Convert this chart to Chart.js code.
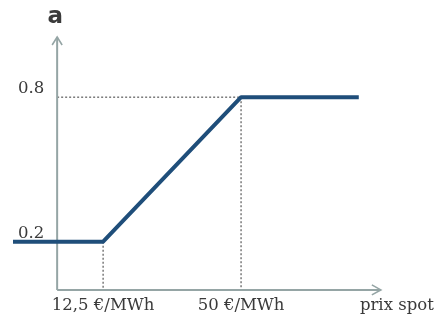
<!DOCTYPE html>
<html>
<head>
<meta charset="utf-8">
<script src="https://cdn.jsdelivr.net/npm/chart.js@4"></script>
<style>
  html, body { margin: 0; padding: 0; background: #fff; }
  #wrap { width: 434px; height: 320px; position: relative; }
</style>
</head>
<body>
<div id="wrap"><canvas id="chart"></canvas></div>
<script>
// piecewise curve: coefficient a vs spot price
const spotPrice = [-12, 12.5, 50, 82];
const coeffA = [0.2, 0.2, 0.8, 0.8];

// tick labels
const xTickValues = [12.5, 50];
const xTickLabels = ['12,5 €/MWh', '50 €/MWh'];
const yTickValues = [0.2, 0.8];
const yTickLabels = ['0.2', '0.8'];

// axis names and ends
const xAxisName = 'prix spot';
const yAxisName = 'a';
const xAxisEnd = 88;
const yAxisEnd = 1.05;

const LINE_COLOR = '#1f4e7a';
const AXIS_COLOR = '#95a5a5';
const GUIDE_COLOR = '#7a7a7a';
const TEXT_COLOR = '#3a3a3a';

const data = {
  datasets: [{
    label: 'a',
    data: spotPrice.map((x, i) => ({ x: x, y: coeffA[i] })),
    showLine: true,
    borderColor: LINE_COLOR,
    borderWidth: 4,
    pointRadius: 0,
    borderJoinStyle: 'round',
    tension: 0
  }]
};

// y value of the curve at a given price (from the data arrays)
function curveAt(v) {
  for (let i = 1; i < spotPrice.length; i++) {
    if (v <= spotPrice[i]) {
      const t = (v - spotPrice[i - 1]) / (spotPrice[i] - spotPrice[i - 1]);
      return coeffA[i - 1] + t * (coeffA[i] - coeffA[i - 1]);
    }
  }
  return coeffA[coeffA.length - 1];
}

const axesPlugin = {
  id: 'schemaAxes',
  beforeDatasetsDraw(chart) {
    const ctx = chart.ctx;
    const xs = chart.scales.x, ys = chart.scales.y;
    const x0 = xs.getPixelForValue(0), y0 = ys.getPixelForValue(0);
    ctx.save();

    // dashed guides
    ctx.strokeStyle = GUIDE_COLOR;
    ctx.lineWidth = 1.5;
    ctx.setLineDash([2, 2]);
    xTickValues.forEach(v => {
      const px = xs.getPixelForValue(v);
      ctx.beginPath();
      ctx.moveTo(px, ys.getPixelForValue(curveAt(v)));
      ctx.lineTo(px, y0);
      ctx.stroke();
    });
    yTickValues.forEach((v, i) => {
      const py = ys.getPixelForValue(v);
      ctx.beginPath();
      ctx.moveTo(x0, py);
      ctx.lineTo(xs.getPixelForValue(xTickValues[i]), py);
      ctx.stroke();
    });
    ctx.setLineDash([]);

    // axes with arrow heads
    const xe = xs.getPixelForValue(xAxisEnd), ye = ys.getPixelForValue(yAxisEnd);
    ctx.strokeStyle = AXIS_COLOR;
    ctx.lineWidth = 2;
    ctx.beginPath();
    ctx.moveTo(x0, y0);
    ctx.lineTo(x0, ye);
    ctx.moveTo(x0, y0);
    ctx.lineTo(xe, y0);
    ctx.stroke();
    ctx.lineWidth = 1.6;
    ctx.beginPath();
    ctx.moveTo(x0 - 5, ye + 8);
    ctx.lineTo(x0, ye);
    ctx.lineTo(x0 + 5, ye + 8);
    ctx.moveTo(xe - 9, y0 - 5);
    ctx.lineTo(xe, y0);
    ctx.lineTo(xe - 9, y0 + 5);
    ctx.stroke();

    // tick labels
    ctx.fillStyle = TEXT_COLOR;
    ctx.font = '16.5px "DejaVu Serif"';
    ctx.textAlign = 'center';
    ctx.textBaseline = 'middle';
    xTickValues.forEach((v, i) => {
      ctx.fillText(xTickLabels[i], xs.getPixelForValue(v), y0 + 16);
    });
    ctx.fillText(xAxisName, xe + 16, y0 + 16);
    ctx.textAlign = 'right';
    yTickValues.forEach((v, i) => {
      ctx.fillText(yTickLabels[i], x0 - 13, ys.getPixelForValue(v) - 8);
    });

    // y axis name
    ctx.font = 'bold 23px "DejaVu Sans"';
    ctx.textAlign = 'center';
    ctx.fillText(yAxisName, x0 - 2, ye - 20);
    ctx.restore();
  }
};

const config = {
  type: 'scatter',
  data: data,
  options: {
    responsive: true,
    maintainAspectRatio: false,
    animation: false,
    layout: { padding: { left: 13, right: 9, top: 37, bottom: 6 } },
    plugins: {
      legend: { display: false },
      tooltip: { enabled: false }
    },
    scales: {
      x: { type: 'linear', min: -12, max: 100, display: false },
      y: { type: 'linear', min: -0.1, max: 1.05, display: false }
    }
  },
  plugins: [axesPlugin]
};

const myChart = new Chart(document.getElementById('chart'), config);
</script>
</body>
</html>
